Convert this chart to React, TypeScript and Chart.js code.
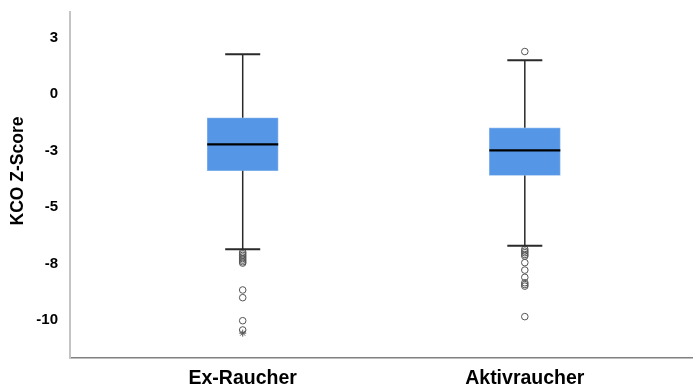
import React, { useEffect, useRef } from "react";
import { Chart, registerables } from "chart.js";

Chart.register(...registerables);

const categories = ["Ex-Raucher", "Aktivraucher"];
const whiskerLow = [-6.87, -6.71];
const q1 = [-3.39, -3.6];
const median = [-2.23, -2.49];
const q3 = [-1.05, -1.49];
const whiskerHigh = [1.76, 1.5];
const outliersEx = [-7.0, -7.07, -7.14, -7.21, -7.28, -7.35, -7.42, -7.48, -8.67, -9.01, -10.03, -10.44];
const extremesEx = [-10.58];
const outliersAkt = [1.88, -6.87, -6.95, -7.02, -7.1, -7.17, -7.46, -7.79, -8.11, -8.35, -8.43, -8.5, -9.85];
const yTickValues = [2.5, 0, -2.5, -5, -7.5, -10];
const yTickLabels = ["3", "0", "-3", "-5", "-8", "-10"];
const yTitle = "KCO Z-Score";

const FONT = "'Liberation Sans', Arial, sans-serif";

const boxPlugin = {
  id: "boxExtras",
  afterDatasetsDraw(chart: any) {
    const { ctx, scales } = chart;
    const xs = scales.x;
    const ys = scales.y;
    ctx.save();
    categories.forEach((_, i) => {
      const cx = xs.getPixelForValue(i);
      const yHi = ys.getPixelForValue(whiskerHigh[i]);
      const yQ3 = ys.getPixelForValue(q3[i]);
      const yQ1 = ys.getPixelForValue(q1[i]);
      const yLo = ys.getPixelForValue(whiskerLow[i]);
      const yMed = ys.getPixelForValue(median[i]);
      ctx.strokeStyle = "#2a2a2a";
      ctx.lineWidth = 1.5;
      ctx.beginPath();
      ctx.moveTo(cx, yHi);
      ctx.lineTo(cx, yQ3);
      ctx.moveTo(cx, yQ1);
      ctx.lineTo(cx, yLo);
      ctx.stroke();
      ctx.lineWidth = 2;
      ctx.beginPath();
      ctx.moveTo(cx - 17.5, yHi);
      ctx.lineTo(cx + 17.5, yHi);
      ctx.moveTo(cx - 17.5, yLo);
      ctx.lineTo(cx + 17.5, yLo);
      ctx.stroke();
      ctx.strokeStyle = "#000";
      ctx.lineWidth = 2.2;
      ctx.beginPath();
      ctx.moveTo(cx - 35.5, yMed);
      ctx.lineTo(cx + 35.5, yMed);
      ctx.stroke();
    });
    ctx.restore();
  },
  afterDraw(chart: any) {
    const { ctx } = chart;
    ctx.save();
    ctx.translate(18, 171);
    ctx.rotate(-Math.PI / 2);
    ctx.font = `bold 17.5px ${FONT}`;
    ctx.fillStyle = "#000";
    ctx.textAlign = "center";
    ctx.textBaseline = "middle";
    ctx.fillText(yTitle, 0, 0);
    ctx.restore();
  },
};

export default function App() {
  const ref = useRef<HTMLCanvasElement>(null);
  useEffect(() => {
    if (!ref.current) return;
    const pointStyleCommon = {
      type: "scatter" as const,
      showLine: false,
      pointBackgroundColor: "rgba(255,255,255,0)",
      pointBorderColor: "#555",
      pointBorderWidth: 1,
      pointRadius: 3.3,
      pointHoverRadius: 3.3,
    };
    const chart = new Chart(ref.current, {
      type: "bar",
      data: {
        datasets: [
          {
            type: "bar",
            data: categories.map((_, i) => ({ x: i, y: [q1[i], q3[i]] })) as any,
            backgroundColor: "#5596e6",
            borderColor: "#8cb8ee",
            borderWidth: 0.8,
            borderSkipped: false,
            barThickness: 71,
          } as any,
          {
            ...pointStyleCommon,
            data: outliersEx.map((y) => ({ x: 0, y })),
            pointStyle: "circle",
          } as any,
          {
            ...pointStyleCommon,
            data: extremesEx.map((y) => ({ x: 0, y })),
            pointStyle: "star",
            pointRadius: 3.5,
          } as any,
          {
            ...pointStyleCommon,
            data: outliersAkt.map((y) => ({ x: 1, y })),
            pointStyle: "circle",
          } as any,
        ],
      },
      options: {
        responsive: false,
        animation: false,
        layout: { autoPadding: false, padding: { top: 12, left: 0, right: 0, bottom: 0 } },
        plugins: { legend: { display: false }, tooltip: { enabled: false }, title: { display: false } },
        scales: {
          x: {
            type: "linear",
            offset: false,
            min: -0.6122,
            max: 1.5962,
            grid: { display: false, drawTicks: false, offset: false },
            border: { display: true, color: "#808080", width: 1.5 },
            afterBuildTicks: (s: any) => {
              s.ticks = categories.map((_, i) => ({ value: i }));
            },
            afterFit: (s: any) => {
              s.height = 34;
              s.paddingLeft = 0;
              s.paddingRight = 0;
            },
            ticks: {
              padding: 9,
              color: "#000",
              font: { family: FONT, size: 19.5, weight: "bold" },
              callback: (v: any) => categories[v] ?? "",
              maxRotation: 0,
              autoSkip: false,
            },
          },
          y: {
            type: "linear",
            min: -11.68,
            max: 3.63,
            grid: { display: false, drawTicks: false },
            border: { display: true, color: "#c4c4c4", width: 2 },
            afterBuildTicks: (s: any) => {
              s.ticks = yTickValues.map((v) => ({ value: v }));
            },
            afterFit: (s: any) => {
              s.width = 70;
              s.paddingTop = 0;
              s.paddingBottom = 0;
            },
            ticks: {
              padding: 12,
              color: "#000",
              font: { family: FONT, size: 15, weight: "bold" },
              callback: (v: any) => {
                const idx = yTickValues.indexOf(v);
                return idx >= 0 ? yTickLabels[idx] : "";
              },
              autoSkip: false,
            },
          },
        },
      } as any,
      plugins: [boxPlugin],
    });
    return () => chart.destroy();
  }, []);
  return (
    <div style={{ position: "fixed", left: 0, top: 0, width: 693, height: 392, background: "#fff" }}>
      <canvas ref={ref} width={693} height={392} style={{ display: "block" }} />
    </div>
  );
}
